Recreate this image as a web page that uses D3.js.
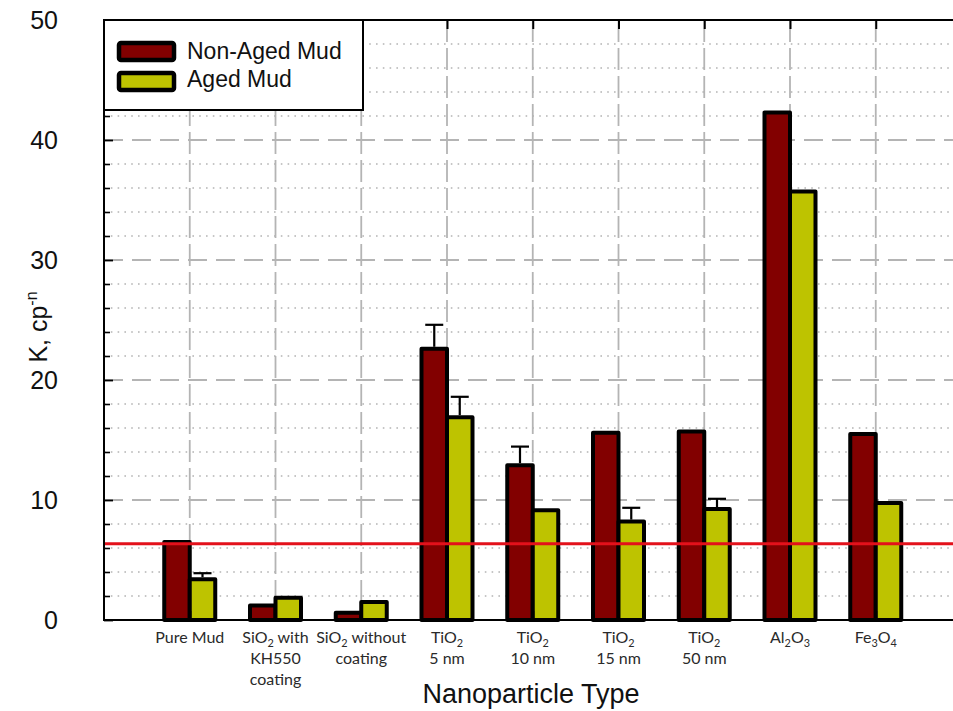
<!DOCTYPE html>
<html>
<head>
<meta charset="utf-8">
<script src="https://cdn.jsdelivr.net/npm/d3@7"></script>
<style>
  html, body { margin: 0; padding: 0; background: #fff; }
  svg { display: block; }
</style>
</head>
<body>
<svg id="chart" width="953" height="711"></svg>
<script>
// Category labels; "_n" marks a subscript digit
const categoryLines = [
  ["Pure Mud"],
  ["SiO_2 with", "KH550", "coating"],
  ["SiO_2 without", "coating"],
  ["TiO_2", "5 nm"],
  ["TiO_2", "10 nm"],
  ["TiO_2", "15 nm"],
  ["TiO_2", "50 nm"],
  ["Al_2O_3"],
  ["Fe_3O_4"]
];

const seriesNames = ["Non-Aged Mud", "Aged Mud"];
const nonAged    = [6.5, 1.2, 0.6, 22.6, 12.9, 15.6, 15.7, 42.3, 15.5];
const aged       = [3.4, 1.85, 1.5, 16.9, 9.15, 8.2, 9.25, 35.7, 9.75];
const nonAgedErr = [0, 0, 0, 2.0, 1.55, 0, 0, 0, 0];
const agedErr    = [0.5, 0, 0, 1.7, 0, 1.15, 0.85, 0, 0];
const referenceK = 6.35;

const majorTicks = [0, 10, 20, 30, 40, 50];
const minorTicks = [2, 4, 6, 8, 12, 14, 16, 18, 22, 24, 26, 28, 32, 34, 36, 38, 42, 44, 46, 48];

const colors = ["#820000", "#bec300"];

const svg = d3.select("#chart");
const W = 953, H = 711;
const plotLeft = 104, plotTop = 20, plotBottom = 620;

// categories sit at positions 1..9 on a 0..10 axis that runs past the right edge
const x = d3.scaleLinear().domain([0, 10]).range([plotLeft, plotLeft + 857.5]);
const y = d3.scaleLinear().domain([0, 50]).range([plotBottom, plotTop]);

svg.append("rect").attr("width", W).attr("height", H).attr("fill", "#fff");

const grid = svg.append("g");
// minor horizontal grid (dotted)
grid.selectAll("line.minor").data(minorTicks).join("line")
  .attr("x1", plotLeft).attr("x2", W)
  .attr("y1", d => y(d)).attr("y2", d => y(d))
  .attr("stroke", "#b4b4b4").attr("stroke-width", 1.6)
  .attr("stroke-dasharray", "1.6,5.2");
// major horizontal grid (dashed)
grid.selectAll("line.major").data(majorTicks.filter(d => d > 0 && d < 50)).join("line")
  .attr("x1", plotLeft).attr("x2", W)
  .attr("y1", d => y(d)).attr("y2", d => y(d))
  .attr("stroke", "#b4b4b4").attr("stroke-width", 1.8)
  .attr("stroke-dasharray", "19,9");
// vertical grid at category centres (dashed)
grid.selectAll("line.v").data(d3.range(1, 10)).join("line")
  .attr("x1", d => x(d)).attr("x2", d => x(d))
  .attr("y1", plotTop).attr("y2", plotBottom)
  .attr("stroke", "#b4b4b4").attr("stroke-width", 1.8)
  .attr("stroke-dasharray", "22,6");

// bars
const bw = 25.5;
const barsG = svg.append("g")
  .attr("stroke", "#000").attr("stroke-width", 4).attr("stroke-linejoin", "round");
[nonAged, aged].forEach((vals, s) => {
  barsG.selectAll(null).data(vals).join("rect")
    .attr("x", (d, i) => s === 0 ? x(i + 1) - bw : x(i + 1))
    .attr("y", d => y(d))
    .attr("width", bw)
    .attr("height", d => y(0) - y(d))
    .attr("fill", colors[s]);
});

// error bars
const errG = svg.append("g").attr("stroke", "#000").attr("stroke-width", 2.2);
[[nonAged, nonAgedErr], [aged, agedErr]].forEach(([vals, errs], s) => {
  vals.forEach((v, i) => {
    if (!errs[i]) return;
    const cx = x(i + 1) + (s === 0 ? -bw / 2 : bw / 2);
    errG.append("line").attr("x1", cx).attr("x2", cx)
      .attr("y1", y(v) - 2).attr("y2", y(v + errs[i]));
    errG.append("line").attr("x1", cx - 9).attr("x2", cx + 9)
      .attr("y1", y(v + errs[i])).attr("y2", y(v + errs[i]));
  });
});

// reference level
svg.append("line")
  .attr("x1", plotLeft).attr("x2", W)
  .attr("y1", y(referenceK)).attr("y2", y(referenceK))
  .attr("stroke", "#e3111b").attr("stroke-width", 3);

// axes
const axisG = svg.append("g");
const yAxis = d3.axisLeft(y).tickValues(majorTicks).tickSizeInner(-9).tickSizeOuter(0).tickPadding(46);
const yAxisG = axisG.append("g").attr("transform", `translate(${plotLeft},0)`).call(yAxis);
yAxisG.select(".domain").remove();
yAxisG.selectAll(".tick line").attr("stroke", "#000").attr("stroke-width", 1.8);
yAxisG.selectAll(".tick text")
  .attr("font-family", "Liberation Sans, Arial, sans-serif")
  .attr("font-size", 25).attr("fill", "#111");

const yMinor = d3.axisLeft(y).tickValues(minorTicks).tickSizeInner(-6).tickSizeOuter(0).tickFormat("");
const yMinorG = axisG.append("g").attr("transform", `translate(${plotLeft},0)`).call(yMinor);
yMinorG.select(".domain").remove();
yMinorG.selectAll(".tick line").attr("stroke", "#000").attr("stroke-width", 1.6);

const xTop = d3.axisTop(x).tickValues(d3.range(1, 10)).tickSizeInner(-9).tickSizeOuter(0).tickFormat("");
const xTopG = axisG.append("g").attr("transform", `translate(0,${plotTop})`).call(xTop);
xTopG.select(".domain").remove();
xTopG.selectAll(".tick line").attr("stroke", "#000").attr("stroke-width", 2);

const xBot = d3.axisBottom(x).tickValues(d3.range(1, 10)).tickSizeInner(-9).tickSizeOuter(0).tickFormat("");
const xBotG = axisG.append("g").attr("transform", `translate(0,${plotBottom})`).call(xBot);
xBotG.select(".domain").remove();
xBotG.selectAll(".tick line").attr("stroke", "#000").attr("stroke-width", 2);

// frame lines
axisG.append("line").attr("x1", plotLeft).attr("x2", W).attr("y1", plotTop).attr("y2", plotTop)
  .attr("stroke", "#000").attr("stroke-width", 2);
axisG.append("line").attr("x1", plotLeft).attr("x2", W).attr("y1", plotBottom).attr("y2", plotBottom)
  .attr("stroke", "#000").attr("stroke-width", 2);
axisG.append("line").attr("x1", plotLeft).attr("x2", plotLeft).attr("y1", plotTop - 1).attr("y2", plotBottom + 1)
  .attr("stroke", "#000").attr("stroke-width", 2);

// category labels
function addRich(textSel, str, size) {
  const parts = str.split(/_(\d)/);
  parts.forEach((p, k) => {
    if (p === "") return;
    if (k % 2 === 1) {
      textSel.append("tspan").text(p).attr("font-size", size * 0.68).attr("dy", 4);
    } else {
      const t = textSel.append("tspan").text(p);
      if (k > 0) t.attr("dy", -4);
    }
  });
}
const labG = svg.append("g")
  .attr("font-family", "Lato, 'Open Sans', sans-serif")
  .attr("font-size", 16).attr("fill", "#2a2a2a").attr("text-anchor", "middle");
categoryLines.forEach((lines, i) => {
  lines.forEach((ln, j) => {
    const t = labG.append("text").attr("x", x(i + 1)).attr("y", 643 + j * 21);
    addRich(t, ln, 16);
  });
});

// axis titles
svg.append("text")
  .attr("x", 531).attr("y", 703)
  .attr("text-anchor", "middle")
  .attr("font-family", "Liberation Sans, Arial, sans-serif")
  .attr("font-size", 27).attr("fill", "#111")
  .text("Nanoparticle Type");

const yTitle = svg.append("text")
  .attr("transform", "translate(47,327) rotate(-90)")
  .attr("text-anchor", "middle")
  .attr("font-family", "Liberation Sans, Arial, sans-serif")
  .attr("font-size", 25).attr("fill", "#111");
yTitle.append("tspan").text("K, cp");
yTitle.append("tspan").text("-n").attr("font-size", 16).attr("dy", -10);

// legend
const lg = svg.append("g");
lg.append("rect").attr("x", plotLeft).attr("y", plotTop).attr("width", 259).attr("height", 90)
  .attr("fill", "#fff").attr("stroke", "#000").attr("stroke-width", 2);
seriesNames.forEach((name, s) => {
  lg.append("rect")
    .attr("x", 119).attr("y", 43 + s * 30).attr("width", 55).attr("height", 17)
    .attr("rx", 2)
    .attr("fill", colors[s]).attr("stroke", "#000").attr("stroke-width", 4.5);
  lg.append("text")
    .attr("x", 187).attr("y", 59 + s * 28)
    .attr("font-family", "Liberation Sans, Arial, sans-serif")
    .attr("font-size", 23).attr("fill", "#111")
    .text(name);
});
</script>
</body>
</html>
